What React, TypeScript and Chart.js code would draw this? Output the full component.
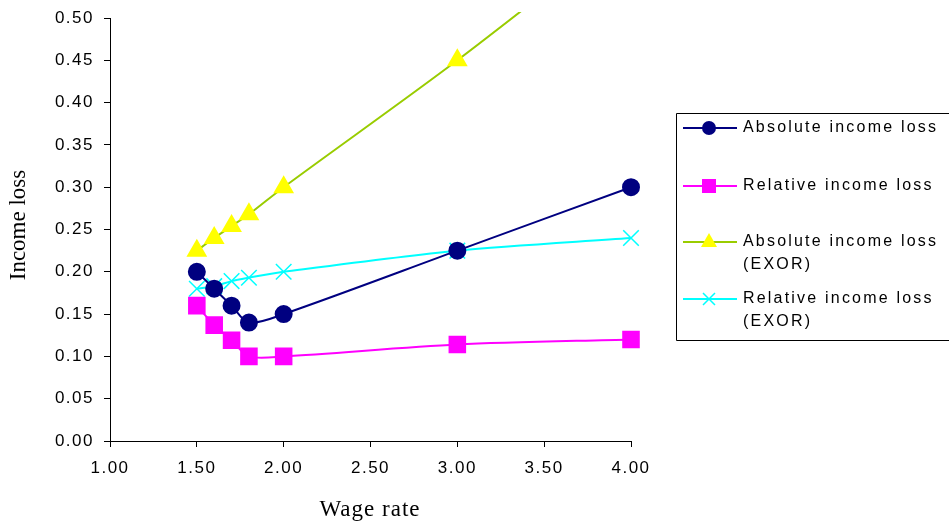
import React, { useEffect, useRef } from 'react';
import { Chart, registerables } from 'chart.js';

Chart.register(...registerables);

const wageRates = [1.5, 1.6, 1.7, 1.8, 2.0, 3.0, 4.0];
const absoluteLoss = [0.2, 0.18, 0.16, 0.14, 0.15, 0.225, 0.3];
const relativeLoss = [0.16, 0.137, 0.119, 0.1, 0.1, 0.114, 0.12];
const absoluteLossExor = [0.225, 0.24, 0.254, 0.268, 0.3, 0.45, 0.61];
const relativeLossExor = [0.18, 0.183, 0.189, 0.193, 0.2, 0.225, 0.24];
const seriesNames = [
  ['Absolute income loss'],
  ['Relative income loss'],
  ['Absolute income loss', '(EXOR)'],
  ['Relative income loss', '(EXOR)'],
];
const xTitle = 'Wage rate';
const yTitle = 'Income loss';

const SANS = 'Arial, "Liberation Sans", sans-serif';
const SERIF = '"Times New Roman", "Liberation Serif", serif';

function drawMarker(ctx: CanvasRenderingContext2D, style: string, x: number, y: number, fill: string, stroke: string) {
  ctx.save();
  ctx.fillStyle = fill;
  ctx.strokeStyle = stroke;
  ctx.beginPath();
  if (style === 'circle') {
    ctx.arc(x, y, 7, 0, Math.PI * 2);
    ctx.fill();
  } else if (style === 'rect') {
    ctx.rect(x - 7, y - 7, 14, 14);
    ctx.fill();
  } else if (style === 'triangle') {
    ctx.moveTo(x, y - 9);
    ctx.lineTo(x + 8, y + 5);
    ctx.lineTo(x - 8, y + 5);
    ctx.closePath();
    ctx.fill();
  } else {
    ctx.lineWidth = 1.5;
    ctx.moveTo(x - 6, y - 6);
    ctx.lineTo(x + 6, y + 6);
    ctx.moveTo(x + 6, y - 6);
    ctx.lineTo(x - 6, y + 6);
    ctx.stroke();
  }
  ctx.restore();
}

function setSpacing(chart: any) {
  (chart.ctx as any).letterSpacing = '1.5px';
}

const customPlugin = {
  id: 'customDecor',
  beforeUpdate(chart: any) {
    setSpacing(chart);
  },
  beforeLayout(chart: any) {
    setSpacing(chart);
  },
  beforeDraw(chart: any) {
    setSpacing(chart);
  },
  afterDraw(chart: any) {
    const ctx: CanvasRenderingContext2D = chart.ctx;
    ctx.save();
    // axis titles
    ctx.fillStyle = '#000';
    ctx.font = `23px ${SERIF}`;
    (ctx as any).letterSpacing = '1px';
    ctx.textAlign = 'center';
    ctx.textBaseline = 'middle';
    ctx.fillText(xTitle, 370, 510);
    (ctx as any).letterSpacing = '0px';
    ctx.save();
    ctx.translate(19, 225);
    ctx.rotate(-Math.PI / 2);
    ctx.fillText(yTitle, 0, 0);
    ctx.restore();

    // legend box
    ctx.strokeStyle = '#000';
    ctx.lineWidth = 1;
    ctx.fillStyle = '#fff';
    ctx.beginPath();
    ctx.rect(676.5, 113.5, 300, 227);
    ctx.fill();
    ctx.stroke();

    const rowY = [128, 186, 242, 299];
    ctx.font = `16px ${SANS}`;
    (ctx as any).letterSpacing = '2.2px';
    ctx.textAlign = 'left';
    ctx.textBaseline = 'middle';
    chart.data.datasets.forEach((ds: any, i: number) => {
      const y = rowY[i];
      ctx.save();
      ctx.strokeStyle = ds.borderColor;
      ctx.lineWidth = 2;
      ctx.beginPath();
      ctx.moveTo(683, y);
      ctx.lineTo(737, y);
      ctx.stroke();
      ctx.restore();
      drawMarker(ctx, ds.pointStyle, 709, y, ds.pointBackgroundColor, ds.pointBorderColor);
      ctx.fillStyle = '#000';
      seriesNames[i].forEach((line, j) => {
        ctx.fillText(line, 743, y + j * 23);
      });
    });
    ctx.restore();
  },
};

function makePoints(vals: number[]) {
  return wageRates.map((x, i) => ({ x, y: vals[i] }));
}

export default function App() {
  const ref = useRef<HTMLCanvasElement | null>(null);
  useEffect(() => {
    if (!ref.current) return;
    const clip = { left: 20, right: 20, top: 6, bottom: 20 };
    const chart = new Chart(ref.current, {
      type: 'line',
      data: {
        datasets: [
          {
            label: seriesNames[0].join(' '),
            data: makePoints(absoluteLoss),
            borderColor: '#000080',
            backgroundColor: '#000080',
            pointBackgroundColor: '#000080',
            pointBorderColor: '#000080',
            pointStyle: 'circle',
            pointRadius: 8,
            borderWidth: 2,
            tension: 0.3,
            clip,
          },
          {
            label: seriesNames[1].join(' '),
            data: makePoints(relativeLoss),
            borderColor: '#FF00FF',
            backgroundColor: '#FF00FF',
            pointBackgroundColor: '#FF00FF',
            pointBorderColor: '#FF00FF',
            pointStyle: 'rect',
            pointRadius: 11,
            borderWidth: 2,
            tension: 0.3,
            clip,
          },
          {
            label: seriesNames[2].join(' '),
            data: makePoints(absoluteLossExor),
            borderColor: '#99CC00',
            backgroundColor: '#FFFF00',
            pointBackgroundColor: '#FFFF00',
            pointBorderColor: '#FFFF00',
            pointStyle: 'triangle',
            pointRadius: 10,
            borderWidth: 2,
            tension: 0.3,
            clip,
          },
          {
            label: seriesNames[3].join(' '),
            data: makePoints(relativeLossExor),
            borderColor: '#00FFFF',
            backgroundColor: '#00FFFF',
            pointBackgroundColor: '#00FFFF',
            pointBorderColor: '#00FFFF',
            pointStyle: 'crossRot',
            pointRadius: 11,
            pointBorderWidth: 1.5,
            borderWidth: 2,
            tension: 0.3,
            clip,
          },
        ],
      },
      options: {
        responsive: false,
        animation: false,
        layout: { padding: { left: 0, top: 18, right: 318, bottom: 0 } },
        plugins: {
          legend: { display: false },
          tooltip: { enabled: false },
          title: { display: false },
        },
        scales: {
          x: {
            type: 'linear',
            min: 1,
            max: 4,
            ticks: {
              stepSize: 0.5,
              color: '#000',
              font: { family: SANS, size: 17 },
              padding: 11,
              maxRotation: 0,
              callback: (v: any) => Number(v).toFixed(2),
            },
            grid: { drawOnChartArea: false, drawTicks: true, tickLength: 6, color: '#000' },
            border: { color: '#000', width: 1 },
            afterFit: (s: any) => {
              s.height = 84;
              s.paddingLeft = 0;
              s.paddingRight = 0;
            },
          },
          y: {
            type: 'linear',
            min: 0,
            max: 0.5,
            ticks: {
              stepSize: 0.05,
              color: '#000',
              font: { family: SANS, size: 17 },
              padding: 10,
              callback: (v: any) => Number(v).toFixed(2),
            },
            grid: { drawOnChartArea: false, drawTicks: true, tickLength: 6, color: '#000' },
            border: { color: '#000', width: 1 },
            afterFit: (s: any) => {
              s.width = 110;
              s.paddingTop = 0;
              s.paddingBottom = 0;
            },
          },
        },
      },
      plugins: [customPlugin],
    });
    return () => chart.destroy();
  }, []);
  return (
    <div style={{ position: 'fixed', left: 0, top: 0, width: 949, height: 525, background: '#fff' }}>
      <canvas ref={ref} width={949} height={525} style={{ display: 'block' }} />
    </div>
  );
}
